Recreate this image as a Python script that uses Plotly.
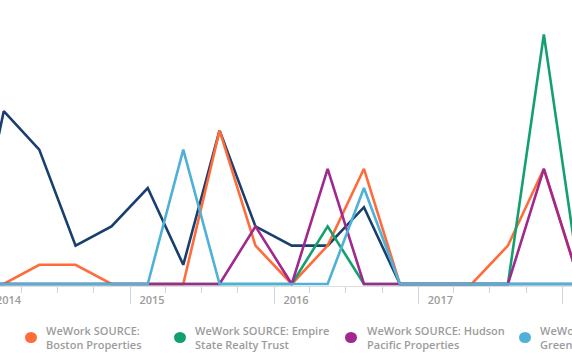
import datetime as dt
import plotly.graph_objects as go

# ---- data (quarterly, plotted at mid-quarter) ----
quarters = ["2013-11-15", "2014-02-15", "2014-05-16", "2014-08-16", "2014-11-15",
            "2015-02-15", "2015-05-16", "2015-08-16", "2015-11-15",
            "2016-02-15", "2016-05-16", "2016-08-16", "2016-11-15",
            "2017-02-15", "2017-05-16", "2017-08-16", "2017-11-15", "2018-02-15"]

names = [
    "WeWork SOURCE:<br>Boston Properties",
    "WeWork SOURCE: Empire<br>State Realty Trust",
    "WeWork SOURCE: Hudson<br>Pacific Properties",
    "WeWork SOURCE: SL<br>Green Realty Corp",
    "WeWork SOURCE:<br>Vornado Realty Trust",
]
boston = [0, 0, 1, 1, 0, 0, 0, 8, 2, 0, 2, 6, 0, 0, 0, 2, 6, 0]
empire = [0, 0, 0, 0, 0, 0, 0, 0, 0, 0, 3, 0, 0, 0, 0, 0, 13, 0]
hudson = [0, 0, 0, 0, 0, 0, 0, 0, 3, 0, 6, 0, 0, 0, 0, 0, 6, 0]
slgreen = [0, 0, 0, 0, 0, 0, 7, 0, 0, 0, 0, 5, 0, 0, 0, 0, 0, 0]
vornado = [0, 9, 7, 2, 3, 5, 1, 8, 3, 2, 2, 4, 0, 0, 0, 0, 0, 0]

# year label whose tick falls just left of the visible range
edge_year_label = "2014"

colors = ["#ff6b3b", "#13a06f", "#a0288e", "#4fb0d8", "#183f6e"]
series = [boston, empire, hudson, slgreen, vornado]

W, H = 572, 364
plot_bottom = 286

fig = go.Figure()
# draw order: navy first, light blue last (on top)
draw_order = [4, 0, 1, 2, 3]
for i in draw_order:
    fig.add_trace(go.Scatter(
        x=quarters, y=series[i], mode="lines", name=names[i],
        line=dict(color=colors[i], width=2.6), showlegend=False,
        hoverinfo="skip",
    ))

# x range: 2015-01-01 at px 130, 144 px per year
px_per_day = 144 / 365.0
ref = dt.datetime(2015, 1, 1)
x_start = ref - dt.timedelta(days=130 / px_per_day)
x_end = x_start + dt.timedelta(days=W / px_per_day)

unit = 19.2
ymin = -2 / unit
ymax = ymin + plot_bottom / unit

grey = "#9c9c9c"
tickfont = dict(family="Open Sans", size=11, color=grey, weight=600)
fig.update_layout(
    width=W, height=H,
    margin=dict(l=0, r=0, t=0, b=H - plot_bottom),
    paper_bgcolor="white", plot_bgcolor="white",
    font=dict(family="Open Sans", size=11, color=grey),
    xaxis=dict(
        type="date", range=[x_start, x_end],
        tick0="2014-01-01", dtick="M12", tickformat="%Y",
        ticks="outside", ticklen=17, tickcolor="#d4d4d4", tickwidth=1,
        showline=True, linecolor="#dedede", linewidth=1,
        showgrid=False, zeroline=False,
        ticklabelshift=22, ticklabelstandoff=-13,
        tickfont=tickfont,
        minor=dict(dtick="M3", tick0="2014-01-01", ticks="outside", ticklen=6,
                   tickcolor="#d4d4d4", tickwidth=1, showgrid=False),
    ),
    yaxis=dict(range=[ymin, ymax], visible=False, showgrid=False, zeroline=False),
    showlegend=False,
)

# label for the 2014 tick (tick itself lies just outside the visible range)
fig.add_annotation(xref="paper", yref="paper", x=9 / W,
                   y=(plot_bottom - 299.5) / plot_bottom,
                   xanchor="center", yanchor="middle", text=edge_year_label,
                   showarrow=False, font=tickfont)

# manual legend (real text)
leg_marker_x = [31, 180, 351, 525, 697]
leg_text_x = [44, 193, 365, 538, 710]
leg_y = 337.5
for i in range(5):
    cx = leg_marker_x[i]
    fig.add_shape(type="circle", xref="paper", yref="paper",
                  x0=(cx - 6) / W, x1=(cx + 6) / W,
                  y0=(plot_bottom - (leg_y + 5.5)) / plot_bottom,
                  y1=(plot_bottom - (leg_y - 5.5)) / plot_bottom,
                  fillcolor=colors[i], line=dict(width=0))
    fig.add_annotation(xref="paper", yref="paper",
                       x=leg_text_x[i] / W, y=(plot_bottom - leg_y) / plot_bottom,
                       xanchor="left", yanchor="middle", align="left",
                       text=names[i], showarrow=False,
                       font=dict(family="Open Sans", size=11, color=grey, weight=600))

fig.write_html("out.html")
